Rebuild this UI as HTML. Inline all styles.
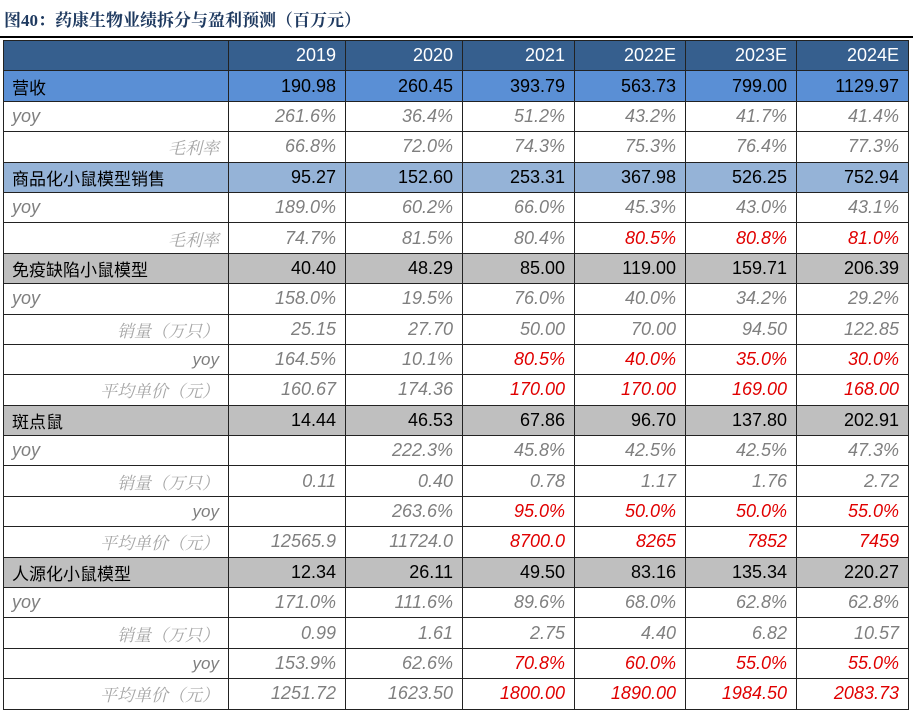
<!DOCTYPE html>
<html><head><meta charset="utf-8"><style>
body{margin:0;width:913px;height:709px;background:#fff;overflow:hidden;position:relative;font-family:"Liberation Sans","Noto Sans CJK SC",sans-serif}
#title{position:absolute;left:4px;top:6px;font-family:"Liberation Serif","Noto Serif CJK SC",serif;font-weight:bold;font-size:17px;color:#1f3a60;white-space:nowrap}
#rule{position:absolute;left:0;top:36px;width:913px;height:2px;background:#000}
table{position:absolute;left:3px;top:40px;border-collapse:collapse;table-layout:fixed}
td{height:29.4px;padding:0 9px 0 8px;border:1px solid #222;font-size:18px;text-align:right;white-space:nowrap;overflow:hidden}
td.l{text-align:right;font-size:17px}
td.m{text-align:left}
tr.h td{background:#365f8e;color:#fff}
tr.a td{background:#5a8fd5;color:#000}
tr.b td{background:#95b3d7;color:#000}
tr.g td{background:#bfbfbf;color:#000}
tr.s td{color:#7f7f7f;font-style:italic}
td.l.y{text-align:left;font-size:18px}
td.sub{font-family:"Liberation Serif","Noto Serif CJK SC",serif;color:#a6a6a6 !important;font-size:17px}
td.r{color:#e00000 !important}
</style></head><body>
<div id="title">图40：药康生物业绩拆分与盈利预测（百万元）</div>
<div id="rule"></div>
<table>
<colgroup><col style="width:225px"><col style="width:117px"><col style="width:117px"><col style="width:112px"><col style="width:111px"><col style="width:111px"><col style="width:112px"></colgroup>
<tbody id="tb"></tbody></table>
<script>
const rows=[
["h m","","2019","2020","2021","2022E","2023E","2024E"],
["a m","营收","190.98","260.45","393.79","563.73","799.00","1129.97"],
["s y","yoy","261.6%","36.4%","51.2%","43.2%","41.7%","41.4%"],
["s sub","毛利率","66.8%","72.0%","74.3%","75.3%","76.4%","77.3%"],
["b m","商品化小鼠模型销售","95.27","152.60","253.31","367.98","526.25","752.94"],
["s y","yoy","189.0%","60.2%","66.0%","45.3%","43.0%","43.1%"],
["s sub","毛利率","74.7%","81.5%","80.4%","*80.5%","*80.8%","*81.0%"],
["g m","免疫缺陷小鼠模型","40.40","48.29","85.00","119.00","159.71","206.39"],
["s y","yoy","158.0%","19.5%","76.0%","40.0%","34.2%","29.2%"],
["s sub","销量（万只）","25.15","27.70","50.00","70.00","94.50","122.85"],
["s","yoy","164.5%","10.1%","*80.5%","*40.0%","*35.0%","*30.0%"],
["s sub","平均单价（元）","160.67","174.36","*170.00","*170.00","*169.00","*168.00"],
["g m","斑点鼠","14.44","46.53","67.86","96.70","137.80","202.91"],
["s y","yoy","","222.3%","45.8%","42.5%","42.5%","47.3%"],
["s sub","销量（万只）","0.11","0.40","0.78","1.17","1.76","2.72"],
["s","yoy","","263.6%","*95.0%","*50.0%","*50.0%","*55.0%"],
["s sub","平均单价（元）","12565.9","11724.0","*8700.0","*8265","*7852","*7459"],
["g m","人源化小鼠模型","12.34","26.11","49.50","83.16","135.34","220.27"],
["s y","yoy","171.0%","111.6%","89.6%","68.0%","62.8%","62.8%"],
["s sub","销量（万只）","0.99","1.61","2.75","4.40","6.82","10.57"],
["s","yoy","153.9%","62.6%","*70.8%","*60.0%","*55.0%","*55.0%"],
["s sub","平均单价（元）","1251.72","1623.50","*1800.00","*1890.00","*1984.50","*2083.73"]
];
const tb=document.getElementById('tb');
rows.forEach((r,i)=>{
 const cls=r[0].split(' ');
 const tr=document.createElement('tr');
 tr.className=cls[0];
 
 
 r.slice(1).forEach((v,j)=>{
  const td=document.createElement('td');
  if(j===0){td.className='l '+(cls[1]||'');}
  if(v.startsWith('*')){v=v.slice(1);td.classList.add('r');}
  td.textContent=v;
  
  
  tr.appendChild(td);
 });
 tb.appendChild(tr);
});
</script>
</body></html>
